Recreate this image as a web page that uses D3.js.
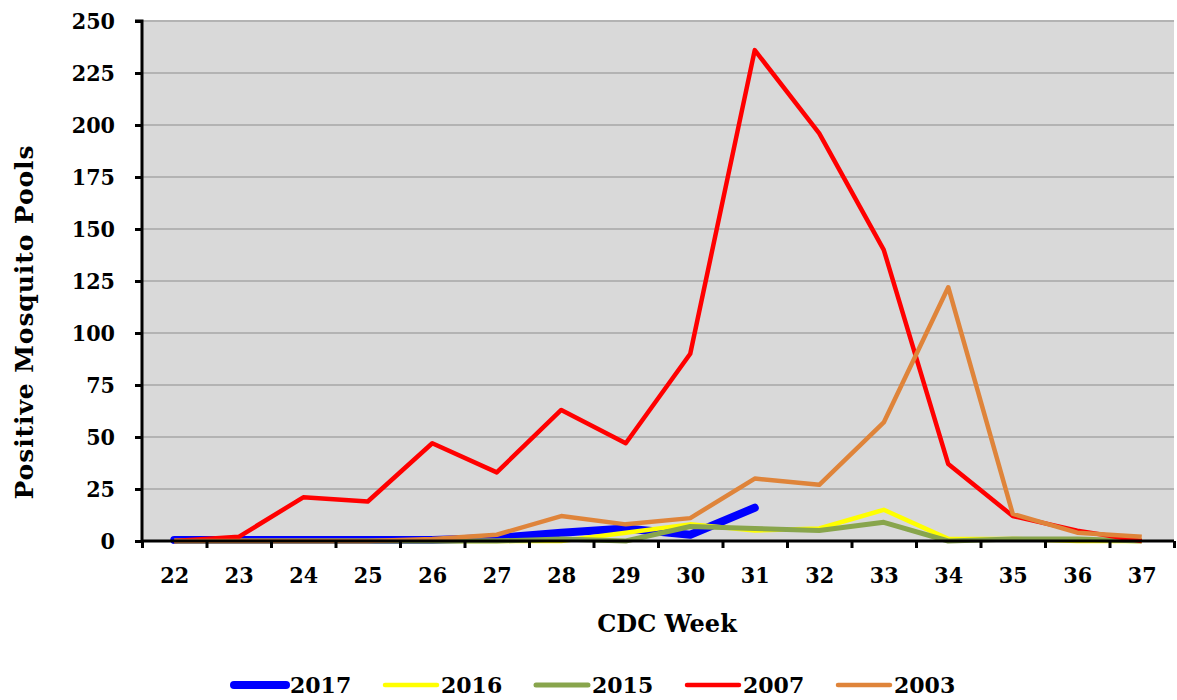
<!DOCTYPE html>
<html>
<head>
<meta charset="utf-8">
<script src="https://cdn.jsdelivr.net/npm/d3@7"></script>
<style>
  body { margin: 0; background: #fff; }
  text { font-family: "DejaVu Serif", serif; font-weight: bold; fill: #000; }
</style>
</head>
<body>
<div id="canvas"></div>
<script>
const weeks = [22, 23, 24, 25, 26, 27, 28, 29, 30, 31, 32, 33, 34, 35, 36, 37];
const yTicks = [0, 25, 50, 75, 100, 125, 150, 175, 200, 225, 250];

// values per week, null = no data
const y2017 = [0.5, 0.5, 0.5, 0.5, 0.5, 1.5, 4, 6, 3, 16, null, null, null, null, null, null];
const y2016 = [0, 0, 0, 0, 0, 0, 0, 4, 8, 5, 6, 15, 1, 1, 0, 0];
const y2015 = [0, 0, 0, 0, 0, 0, 1, 0, 7, 6, 5, 9, 0, 1, 1, 0];
const y2007 = [0, 2, 21, 19, 47, 33, 63, 47, 90, 236, 196, 140, 37, 12, 5, 0];
const y2003 = [0, 0, 0, 0, 1, 3, 12, 8, 11, 30, 27, 57, 122, 13, 4, 2];

const seriesNames = ["2017", "2016", "2015", "2007", "2003"];
const seriesColors = ["#0000ff", "#ffff00", "#88a54c", "#ff0000", "#df843a"];
const seriesWidths = [8, 4.5, 5, 4.5, 4.5];
const seriesValues = [y2017, y2016, y2015, y2007, y2003];

const width = 1177;
const height = 700;
const margin = { top: 21, right: 3, bottom: 159, left: 142 };
const inWidth = width - margin.left - margin.right;
const inHeight = height - margin.top - margin.bottom;
const squeeze = 0.9; // tick labels are narrower than the font

const svg = d3.select("#canvas").append("svg")
  .attr("width", width)
  .attr("height", height);

const xScale = d3.scaleLinear()
  .domain([weeks[0] - 0.5, weeks[weeks.length - 1] + 0.5])
  .range([0, inWidth]);

const yScale = d3.scaleLinear().domain([0, 250]).range([inHeight, 0]);

const g = svg.append("g")
  .attr("transform", `translate(${margin.left},${margin.top})`);

g.append("rect")
  .attr("x", 0).attr("y", -1)
  .attr("width", inWidth).attr("height", inHeight + 1)
  .attr("fill", "#d9d9d9");

// gridlines
g.append("g").selectAll("line")
  .data(yTicks.slice(1))
  .enter().append("line")
  .attr("x1", 0).attr("x2", inWidth)
  .attr("y1", d => yScale(d)).attr("y2", d => yScale(d))
  .attr("stroke", "#b3b3b3").attr("stroke-width", 2);

// lines, drawn bottom to top
const line = d3.line()
  .defined(d => d.v != null)
  .x(d => xScale(d.w))
  .y(d => yScale(d.v));

seriesValues.forEach((vals, i) => {
  g.append("path")
    .datum(weeks.map((w, j) => ({ w: w, v: vals[j] })))
    .attr("d", line)
    .attr("fill", "none")
    .attr("stroke", seriesColors[i])
    .attr("stroke-width", seriesWidths[i])
    .attr("stroke-linejoin", "round")
    .attr("stroke-linecap", i === 0 ? "round" : "butt");
});

// y axis
const yAxis = g.append("g")
  .call(d3.axisLeft(yScale).tickValues(yTicks).tickSize(7).tickPadding(20));
yAxis.select(".domain").attr("stroke-width", 3).attr("d", `M-7,0H0V${inHeight}`);
yAxis.selectAll(".tick line").attr("stroke-width", 3);
yAxis.selectAll("text")
  .style("font-size", "23px")
  .attr("x", -27 / squeeze)
  .attr("transform", `scale(${squeeze},1)`);

// x axis: ticks at boundaries
const bounds = weeks.map(w => w - 0.5).concat([weeks[weeks.length - 1] + 0.5]);
const xAxis = g.append("g")
  .attr("transform", `translate(0,${inHeight})`)
  .call(d3.axisBottom(xScale).tickValues(bounds).tickSize(7).tickFormat(""));
xAxis.select(".domain").attr("stroke-width", 3).attr("d", `M0,0H${inWidth}`);
xAxis.selectAll(".tick line").attr("stroke-width", 3);

const xLabels = g.append("g")
  .attr("transform", `translate(0,${inHeight})`)
  .call(d3.axisBottom(xScale).tickValues(weeks).tickSize(0).tickPadding(26).tickFormat(d3.format("d")));
xLabels.select(".domain").remove();
xLabels.selectAll("text")
  .style("font-size", "23px")
  .attr("transform", `scale(${squeeze},1)`);

// axis titles
svg.append("text")
  .attr("x", 667)
  .attr("y", 632)
  .attr("text-anchor", "middle")
  .style("font-size", "24px")
  .text("CDC Week");

svg.append("text")
  .attr("transform", "translate(33,322) rotate(-90)")
  .attr("text-anchor", "middle")
  .style("font-size", "25px")
  .style("letter-spacing", "0.9px")
  .text("Positive Mosquito Pools");

// legend
const legend = svg.append("g").attr("transform", "translate(234,685)");
seriesNames.forEach((name, i) => {
  const item = legend.append("g").attr("transform", `translate(${i * 151},0)`);
  item.append("line")
    .attr("x1", 0).attr("x2", 52)
    .attr("stroke", seriesColors[i])
    .attr("stroke-width", seriesWidths[i])
    .attr("stroke-linecap", "round");
  item.append("text")
    .attr("x", 56).attr("y", 8)
    .style("font-size", "22px")
    .text(name);
});
</script>
</body>
</html>
